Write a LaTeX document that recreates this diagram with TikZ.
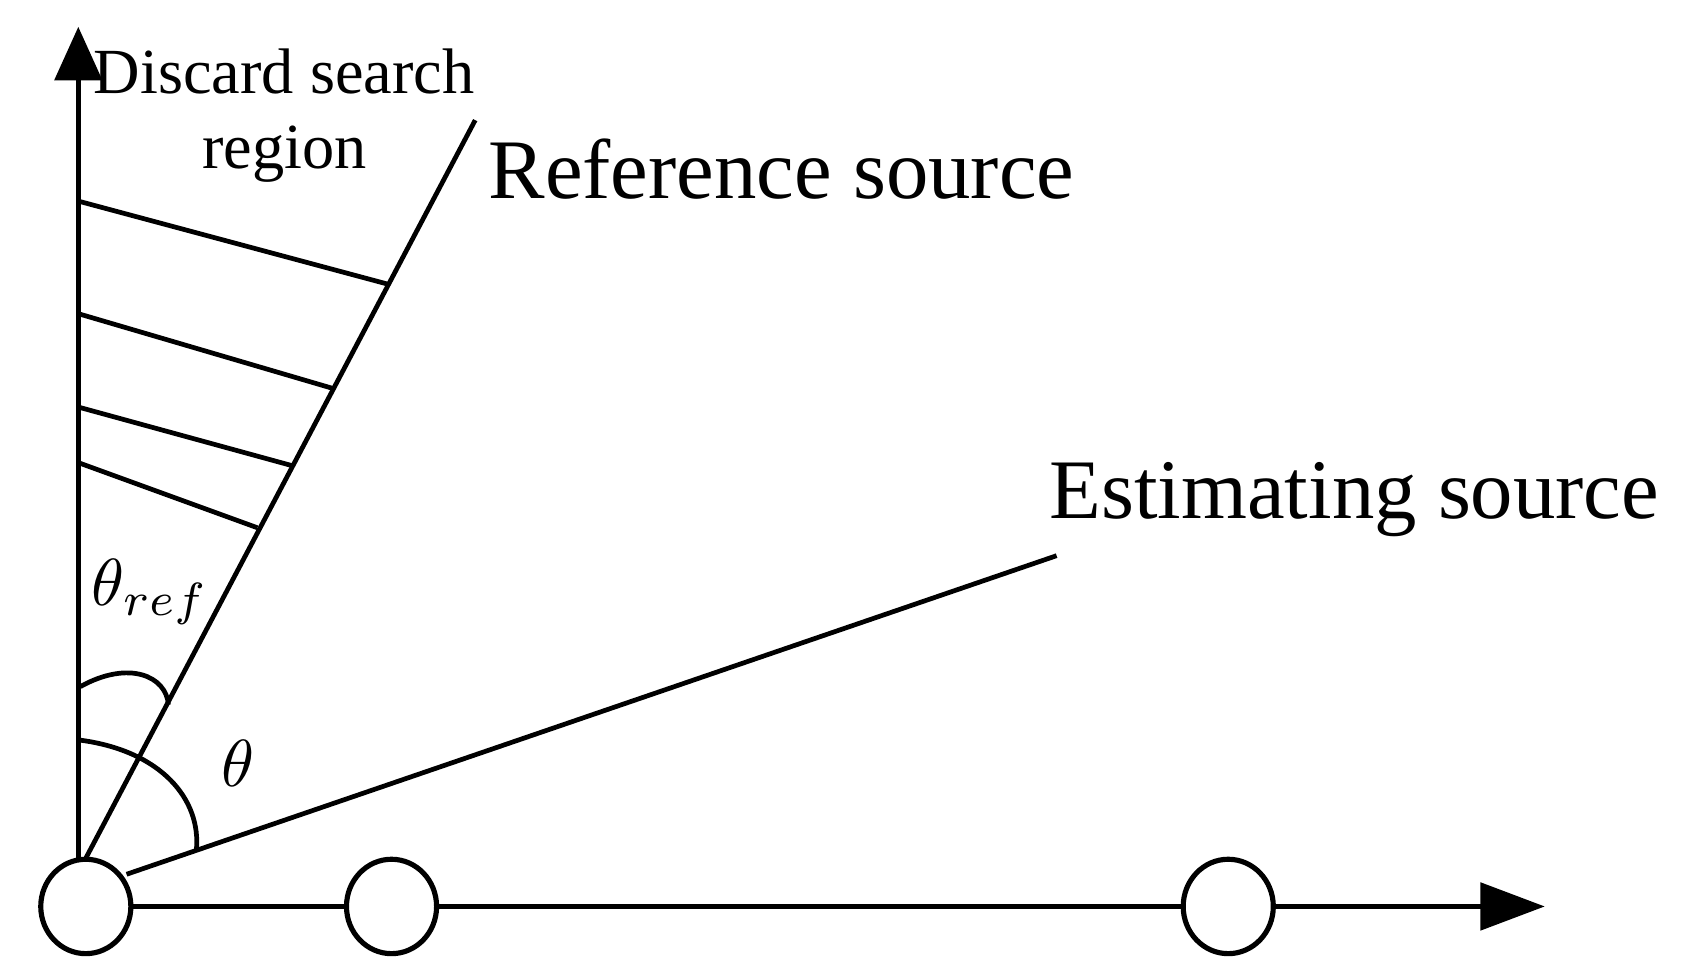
\documentclass[tikz,border=0pt]{standalone}
\usepackage{fontspec}
\usepackage{graphicx}
\setmainfont{Liberation Serif}
\usetikzlibrary{arrows.meta,shapes.geometric}
\begin{document}
\begin{tikzpicture}[x=0.5pt,y=-0.5pt,
  ln/.style={line width=2.2pt},
  circ/.style={draw,line width=2.4pt,ellipse,minimum width=42pt,minimum height=44pt,inner sep=0pt,fill=white},
  lbl/.style={inner sep=0pt,anchor=west}]
\useasboundingbox (0,0) rectangle (1568,912);
\coordinate (O) at (80,800);
\coordinate (ytop) at (73,25);
\coordinate (xtip) at (1440,845);
\coordinate (R) at (443,112);
\coordinate (Es) at (118,815);
\coordinate (E) at (985,518);
\draw[ln,-{Triangle[length=25pt,width=22pt]}] (73,845) -- (ytop);
\draw[ln,-{Triangle[length=30pt,width=22pt]}] (80,845) -- (xtip);
\draw[ln] (O) -- (R);
\draw[ln] (Es) -- (E);
\foreach \a/\b/\c/\d in {75/188/362/265,75/293/310/362,75/380/272/434,75/432/240/492}
  \draw[ln] (\a,\b) -- (\c,\d);
\draw[ln] (75,640) .. controls (120,615) and (155,630) .. (157,657);
\draw[ln] (75,690) .. controls (150,700) and (188,745) .. (183,793);
\node[circ] (c1) at (80,845) {};
\node[circ] (c2) at (365,845) {};
\node[circ] (c3) at (1145,845) {};
\node[inner sep=0pt,font=\fontsize{30}{35}\selectfont,align=center] (d) at (265,108) {Discard search\\region};
\node[lbl,font=\fontsize{39.5}{44}\selectfont] (rs) at (455,158) {Reference source};
\node[lbl,font=\fontsize{39.5}{44}\selectfont] (es) at (978,466) {Estimating source};
\node[inner sep=0pt] (tr) at (140,552) {\scalebox{3.1}{$\theta_{ref}$}};
\node[inner sep=0pt] (t) at (222,712) {\scalebox{3.1}{$\theta$}};
\end{tikzpicture}
\end{document}
